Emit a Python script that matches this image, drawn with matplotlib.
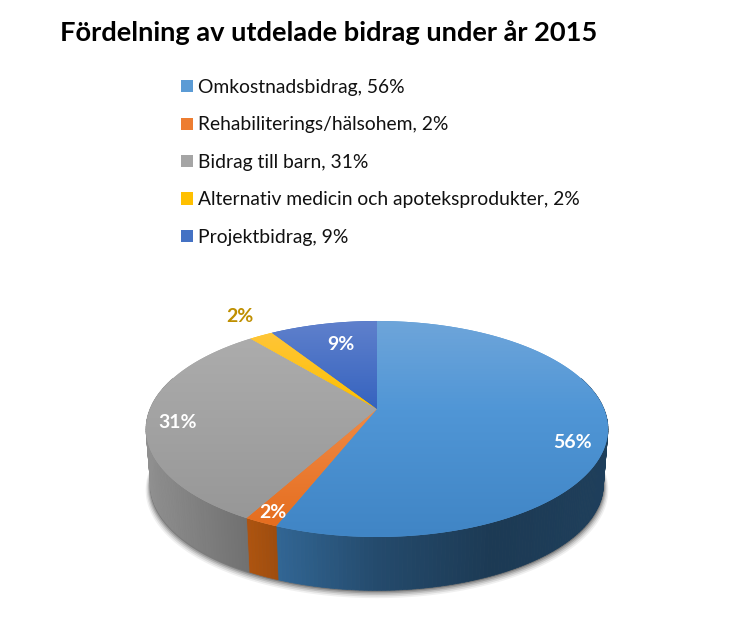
import numpy as np
import matplotlib
matplotlib.use("Agg")
import matplotlib.pyplot as plt
from matplotlib.colors import LinearSegmentedColormap, to_rgb
from matplotlib.patches import Patch
from matplotlib.path import Path
from matplotlib.transforms import Transform

title = "Fördelning av utdelade bidrag under år 2015"
categories = ["Omkostnadsbidrag", "Rehabiliterings/hälsohem", "Bidrag till barn",
              "Alternativ medicin och apoteksprodukter", "Projektbidrag"]
values = [56, 2, 31, 2, 9]
colors = ["#5B9BD5", "#ED7D31", "#A5A5A5", "#FFC000", "#4472C4"]
wall_colors = ["#50A5F0", "#FF7B17", "#A5A5A5", "#FFC000", "#4472C4"]
top_colors = ["#6EA5DA", "#F58F4F", "#AEAEAE", "#FFC640", "#5F80CC"]
mid_colors = ["#5096D6", "#F08A45", "#A4A4A4", "#FDC000", "#3563BF"]
low_colors = ["#4085C5", "#E46B1C", "#959595", "#FDC000", "#3563BF"]
label_xy = [(573, 442), (273, 512), (178, 422), (240, 317), (341, 345)]
label_colors = ["white", "white", "white", "#BF8F00", "white"]

plt.rcParams["font.family"] = ["Lato", "DejaVu Sans"]
W, H = 753, 617
fig = plt.figure(figsize=(W / 100, H / 100), dpi=100)
ax = fig.add_axes([0, 0, 1, 1])

# perspective of the pie disc, in picture pixels
CX, CY, A, C, K = 377.0, 409.0, 104.3, 227.0, 0.185


def project(u, v, scale=1.0, drop=0.0):
    den = 1 + K * v
    return CX + scale * C * u / den, CY - scale * A * v / den + drop


class Disc(Transform):
    input_dims = output_dims = 2
    has_inverse = False
    is_separable = False

    def transform_non_affine(self, values):
        p = np.asarray(values, float)
        x, y = project(p[:, 0], p[:, 1])
        return np.column_stack([x, y])

    def transform_path_non_affine(self, path):
        pts = []
        ts = np.linspace(0, 1, 24)
        for bez, code in path.iter_bezier():
            if code == Path.MOVETO:
                continue
            pts.append(bez(ts))
        pts = np.vstack(pts)
        return Path(self.transform_non_affine(pts))


wedges, _ = ax.pie(values, startangle=90, counterclock=False, colors=colors,
                   radius=1, frame=False)

# side wall and shadow
SCALE, DROP = 0.98, 56.0
full = np.linspace(0, 2 * np.pi, 361)
for grow, extra, alpha in [(1.022, 5, .06), (1.017, 4, .09), (1.012, 3, .12),
                           (1.008, 2, .16), (1.004, 1, .22)]:
    xs, ys = project(np.sin(full), np.cos(full), SCALE * grow, DROP + extra)
    ax.fill(xs, ys, color="black", alpha=alpha, lw=0, zorder=1)

edges = np.cumsum([0] + values) / sum(values)
for i, col in enumerate(wall_colors):
    angs = 2 * np.pi * np.linspace(edges[i], edges[i + 1], max(2, values[i] * 4 + 1))
    base = np.array(to_rgb(col))
    for a0, a1 in zip(angs[:-1], angs[1:]):
        if np.cos(a0) > 0.3 and np.cos(a1) > 0.3:
            continue
        u = np.sin([a0, a1])
        v = np.cos([a0, a1])
        xt, yt = project(u, v)
        xb, yb = project(u, v, SCALE, DROP)
        t = (xt.mean() - CX) / 231.0
        m = np.interp(t, [-1, -.56, -.44, 0, .5, 1], [.87, .68, .62, .45, .35, .38])
        c = tuple(base * m)
        ax.fill([xt[0], xt[1], xb[1], xb[0]], [yt[0], yt[1], yb[1], yb[0]],
                facecolor=c, edgecolor=c, lw=0.5, zorder=2)

# top surface with vertical gradient
disc = Disc() + ax.transData
grad = np.linspace(0, 1, 256)[:, None]
for w, col, c0, c1, c2 in zip(wedges, colors, top_colors, mid_colors, low_colors):
    cmap = LinearSegmentedColormap.from_list("g", [(0, c0), (.41, c1), (1, c2)])
    w.set_transform(disc)
    w.set_facecolor(c1)
    w.set_edgecolor("none")
    w.set_zorder(3)
    im = ax.imshow(grad, cmap=cmap, extent=(146, 608, 537, 321), aspect="auto",
                   zorder=4, interpolation="bilinear", vmin=0, vmax=1)
    im.set_clip_path(w)

ax.set_aspect("auto")
ax.set_xlim(0, W)
ax.set_ylim(H, 0)
ax.axis("off")

for (x, y), val, col in zip(label_xy, values, label_colors):
    ax.text(x, y, f"{val}%", color=col, fontsize=14, fontweight="bold",
            ha="center", va="center", zorder=6)

ax.text(60, 33, title, fontsize=19.6, fontweight="bold", color="black",
        ha="left", va="center", zorder=6)

handles = [Patch(facecolor=c, edgecolor="none") for c in colors]
labels = [f"{n}, {v}%" for n, v in zip(categories, values)]
ax.legend(handles, labels, loc="upper left", bbox_to_anchor=(181 / W, 1 - 79 / H),
          frameon=False, fontsize=13.9, handlelength=0.6, handleheight=0.6,
          handletextpad=0.26, labelspacing=1.06, borderpad=0, borderaxespad=0,
          labelcolor="#111111")

fig.savefig("out.png", dpi=100, facecolor="white")
